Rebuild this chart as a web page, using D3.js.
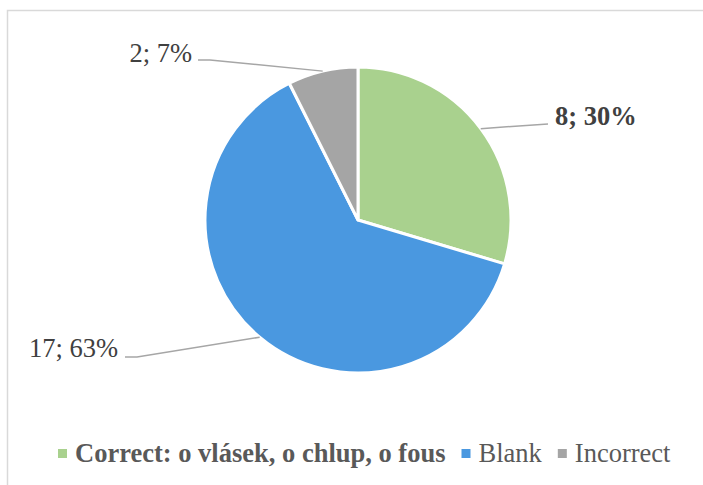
<!DOCTYPE html>
<html><head><meta charset="utf-8">
<script src="https://cdn.jsdelivr.net/npm/d3@7"></script>
<style>html,body{margin:0;padding:0;background:#fff;}svg{display:block;}</style>
</head><body>
<svg id="chart" width="703" height="485"></svg>
<script>
const categories = ["Correct: o vlásek, o chlup, o fous", "Blank", "Incorrect"];
const values = [8, 17, 2];
const percents = ["30%", "63%", "7%"];
const colors = ["#A9D18E", "#4A98E0", "#A5A5A5"];
const boldFlags = [true, false, false];

const W = 703, H = 485;
const svg = d3.select("#chart");
const font = "'Times New Roman','Liberation Serif',serif";

svg.append("rect").attr("x", 7.5).attr("y", 10.5).attr("width", 720).attr("height", 520)
  .attr("fill", "#fff").attr("stroke", "#D9D9D9").attr("stroke-width", 1.5);

const cx = 358, cy = 220, r = 153;
const g = svg.append("g").attr("transform", `translate(${cx},${cy})`);
const pie = d3.pie().sort(null).value(d => d)(values);
const arc = d3.arc().innerRadius(0).outerRadius(r);

g.selectAll("path.slice").data(pie).join("path")
  .attr("class", "slice")
  .attr("d", arc)
  .attr("fill", (d, i) => colors[i])
  .attr("stroke", "#fff").attr("stroke-width", 3).attr("stroke-linejoin", "round");

// label layout (offsets relative to chart center)
const labelLayout = [
  {tx: 197, ty: -95, anchor: "start", elbow: [190, -96], end: [190, -96]},
  {tx: -240, ty: 137, anchor: "end", elbow: [-221, 137], end: [-233, 137]},
  {tx: -166, ty: -158, anchor: "end", elbow: [-148, -160], end: [-160, -160]}
];

pie.forEach((d, i) => {
  const mid = (d.startAngle + d.endAngle) / 2;
  const px = r * Math.sin(mid), py = -r * Math.cos(mid);
  const L = labelLayout[i];
  g.append("polyline")
    .attr("points", [[px, py], L.elbow, L.end].map(p => p.join(",")).join(" "))
    .attr("fill", "none").attr("stroke", "#A6A6A6").attr("stroke-width", 1.5);
  g.append("text")
    .attr("x", L.tx).attr("y", L.ty)
    .attr("text-anchor", L.anchor)
    .attr("font-family", font).attr("font-size", 26.5)
    .attr("font-weight", boldFlags[i] ? "bold" : "normal")
    .attr("fill", "#404040")
    .text(values[i] + "; " + percents[i]);
});

// legend
const legend = svg.append("g");
const legendY = 462;
let x = 58;
categories.forEach((c, i) => {
  legend.append("rect").attr("x", x).attr("y", legendY - 13).attr("width", 9).attr("height", 9)
    .attr("fill", colors[i]);
  const t = legend.append("text").attr("x", x + 17).attr("y", legendY)
    .attr("font-family", font).attr("font-size", 26.5)
    .attr("font-weight", boldFlags[i] ? "bold" : "normal")
    .attr("fill", "#595959").text(c);
  const w = t.node().getComputedTextLength();
  x = x + 17 + w + 16;
});
</script>
</body></html>
